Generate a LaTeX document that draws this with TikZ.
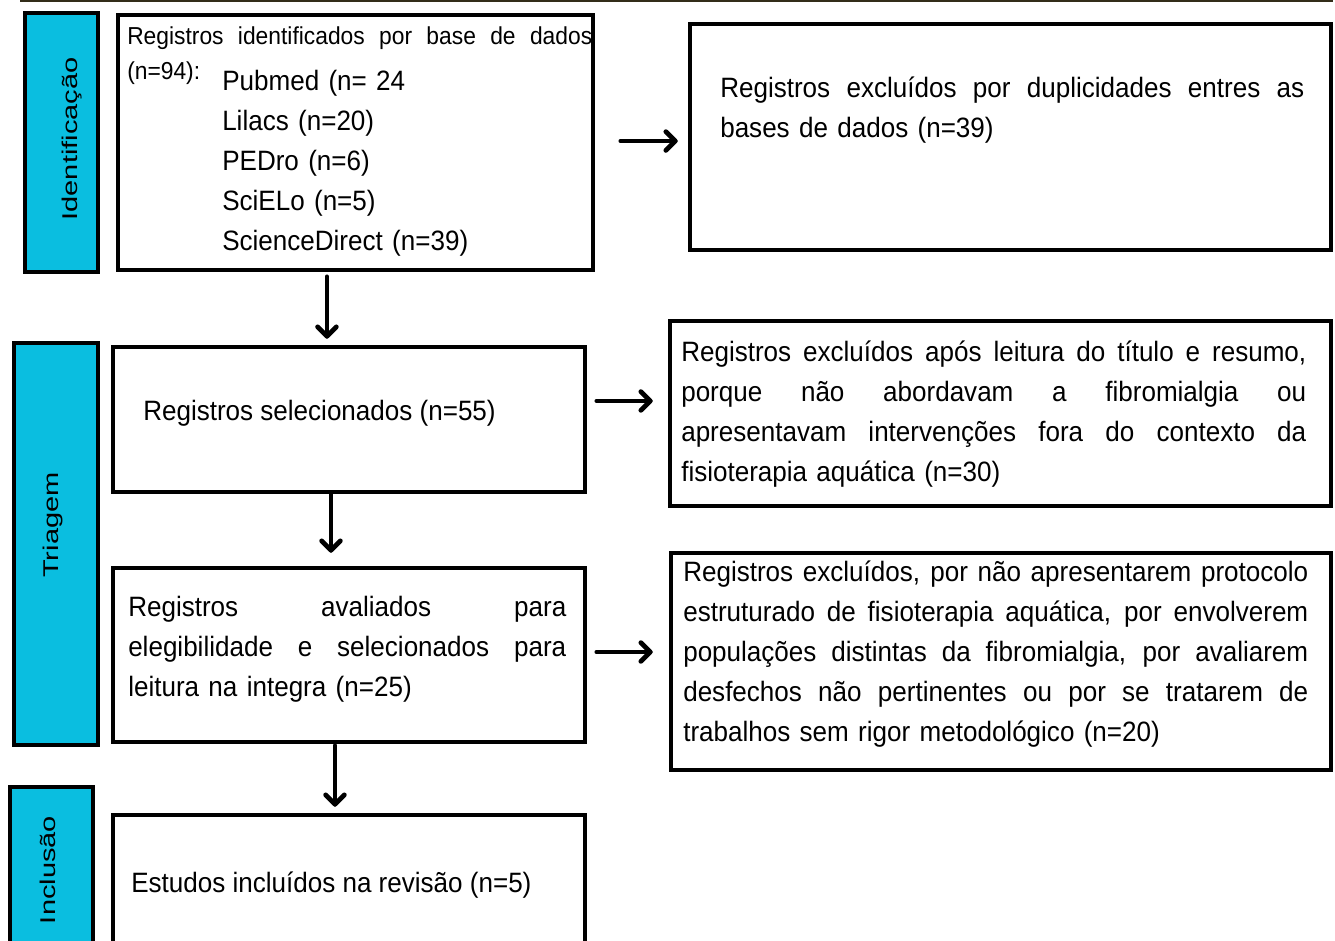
\documentclass[tikz,border=0pt]{standalone}
\usepackage{fontspec}
\setmainfont{Liberation Sans}
\newfontfamily\bodyf[FakeStretch=0.93]{Liberation Sans}
\newfontfamily\sidef[FakeStretch=1.36]{Liberation Sans}
\usetikzlibrary{calc,fit}
\definecolor{sidecyan}{RGB}{10,190,224}
\definecolor{ruleolive}{RGB}{50,45,25}
\newcommand{\jl}[2]{\leavevmode\hbox to #1{\spaceskip=0.278em plus 1fil\relax\xspaceskip=0.278em plus 1fil\relax #2}}
\tikzset{
  box/.style={draw=black, line width=2.7pt, inner sep=0pt},
  side/.style={draw=black, line width=2.7pt, fill=sidecyan, inner sep=0pt},
  sidelabel/.style={rotate=90, anchor=base, inner sep=0pt, font=\sidef\fontsize{16}{19}\selectfont},
  para/.style={anchor=north west, inner sep=0pt, align=left, font=\bodyf\fontsize{21}{30}\selectfont},
  line/.style={anchor=base west, inner sep=0pt, font=\bodyf\fontsize{21}{30}\selectfont},
  smallline/.style={anchor=base west, inner sep=0pt, font=\bodyf\fontsize{18.4}{26}\selectfont},
  shaft/.style={line width=3.6pt, line cap=round, line join=round},
}
\begin{document}
\begin{tikzpicture}[x=0.75pt, y=-0.75pt]
\useasboundingbox (0,0) rectangle (1335,940);
\clip (0,0) rectangle (1335,940);
% top rule
\coordinate (ruleL) at (20,1);
\coordinate (ruleR) at (1333,1);
\draw[ruleolive, line width=1.6pt] (ruleL) -- (ruleR);

% side bars
\node[side, fit={(25,13)(98,272)}] (sIdent) {};
\node[side, fit={(14,343)(98,745)}] (sTri) {};
\node[side, fit={(10,787)(93,960)}] (sInc) {};
\node[sidelabel] (lIdent) at (77,139) {Identificação};
\node[sidelabel] (lTri) at (58,525) {Triagem};
\node[sidelabel] (lInc) at (55,870) {Inclusão};

% left column boxes
\node[box, fit={(118,15)(593,270)}] (b1) {};
\node[box, fit={(113,347)(585,492)}] (b2) {};
\node[box, fit={(113,568)(585,742)}] (b3) {};
\node[box, fit={(113,815)(585,960)}] (b4) {};

% right column boxes
\node[box, fit={(690,24)(1331,250)}] (r1) {};
\node[box, fit={(670,321)(1331,506)}] (r2) {};
\node[box, fit={(671,553)(1331,770)}] (r3) {};

% texts box 1
\node[smallline] (t1a) at (127,44) {\jl{348.75pt}{Registros identificados por base de dados}};
\node[smallline] (t1b) at (127,79) {(n=94):};
\node[para, text width=260pt] (t1c) at (222,62) {\strut Pubmed (n= 24\\Lilacs (n=20)\\PEDro (n=6)\\SciELo (n=5)\\ScienceDirect (n=39)};

% text box 2
\node[line] (t2) at (143,420) {Registros selecionados (n=55)};

% text box 3
\node[para, text width=328.5pt] (t3) at (128,588) {\strut\jl{328.5pt}{Registros avaliados para}\\\jl{328.5pt}{elegibilidade e selecionados para}\\leitura na integra (n=25)};

% text box 4
\node[line] (t4) at (131,892) {Estudos incluídos na revisão (n=5)};

% right texts
\node[para, text width=438pt] (u1) at (720,69) {\strut\jl{438pt}{Registros excluídos por duplicidades entres as}\\bases de dados (n=39)};
\node[para, text width=468.75pt] (u2) at (681,333) {\strut\jl{468.75pt}{Registros excluídos após leitura do título e resumo,}\\\jl{468.75pt}{porque não abordavam a fibromialgia ou}\\\jl{468.75pt}{apresentavam intervenções fora do contexto da}\\fisioterapia aquática (n=30)};
\node[para, text width=468.75pt] (u3) at (683,553) {\strut\jl{468.75pt}{Registros excluídos, por não apresentarem protocolo}\\\jl{468.75pt}{estruturado de fisioterapia aquática, por envolverem}\\\jl{468.75pt}{populações distintas da fibromialgia, por avaliarem}\\\jl{468.75pt}{desfechos não pertinentes ou por se tratarem de}\\trabalhos sem rigor metodológico (n=20)};

% horizontal arrows (shaft + chevron head)
\coordinate (h1s) at ($([yshift=1.1pt]b1.east)+(19.5pt,0)$);
\coordinate (h1e) at ($([yshift=1.1pt]b1.east -| r1.west)+(-9.75pt,0)$);
\coordinate (h2s) at ($([yshift=13.9pt]b2.east)+(7.5pt,0)$);
\coordinate (h2e) at ($([yshift=13.9pt]b2.east -| r2.west)+(-13.5pt,0)$);
\coordinate (h3s) at ($([yshift=2.25pt]b3.east)+(7.5pt,0)$);
\coordinate (h3e) at ($([yshift=2.25pt]b3.east -| r3.west)+(-14.25pt,0)$);
\foreach \a in {h1,h2,h3}{
  \draw[shaft] (\a s) -- (\a e);
  \draw[shaft] (\a e) ++(-7pt,7pt) -- (\a e) -- ++(-7pt,-7pt);
}

% vertical arrows
\coordinate (v1s) at ($([xshift=-21.4pt]b1.south)+(0,-3.75pt)$);
\coordinate (v1e) at ($([xshift=-21.4pt]b1.south |- b2.north)+(0,6.75pt)$);
\coordinate (v2s) at ([xshift=-13.5pt]b2.south);
\coordinate (v2e) at ($([xshift=-13.5pt]b2.south |- b3.north)+(0,12pt)$);
\coordinate (v3s) at ($([xshift=-10.5pt]b3.south)+(0,-1.5pt)$);
\coordinate (v3e) at ($([xshift=-10.5pt]b3.south |- b4.north)+(0,6.75pt)$);
\foreach \a in {v1,v2,v3}{
  \draw[shaft] (\a s) -- (\a e);
  \draw[shaft] (\a e) ++(-7pt,7pt) -- (\a e) -- ++(7pt,7pt);
}
\end{tikzpicture}
\end{document}
